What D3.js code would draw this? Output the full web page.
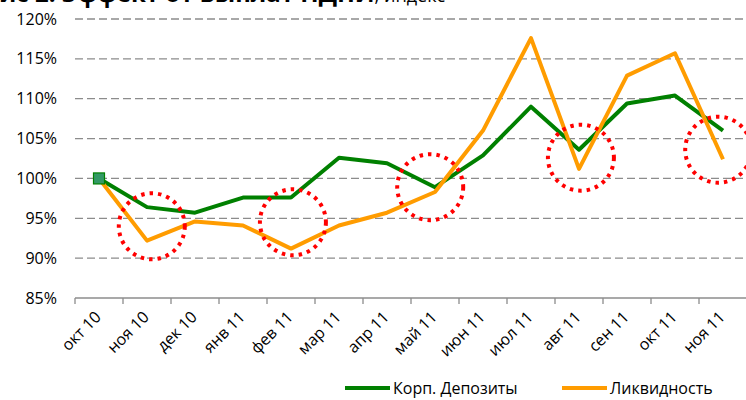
<!DOCTYPE html>
<html>
<head>
<meta charset="utf-8">
<script src="https://cdn.jsdelivr.net/npm/d3@7"></script>
<style>
  html, body { margin: 0; padding: 0; background: #fff; overflow: hidden; }
  svg { display: block; font-family: "Open Sans", "Noto Sans", sans-serif; }
</style>
</head>
<body>
<div id="chart"></div>
<script>
// category labels (months)
const months = ['окт 10', 'ноя 10', 'дек 10', 'янв 11', 'фев 11', 'мар 11', 'апр 11',
  'май 11', 'июн 11', 'июл 11', 'авг 11', 'сен 11', 'окт 11', 'ноя 11'];

// index values, % (окт 10 = 100)
const deposits = [100, 96.4, 95.7, 97.6, 97.6, 102.6, 101.9, 98.9, 102.9, 109.0, 103.6, 109.4, 110.4, 106.0];
const liquidity = [100, 92.2, 94.6, 94.1, 91.2, 94.1, 95.7, 98.3, 106.0, 117.6, 101.2, 112.9, 115.7, 102.4];

const yTicks = [85, 90, 95, 100, 105, 110, 115, 120];

// dotted red rings: month, small shift in steps, centre value
const rings = [
  { month: 'ноя 10', shift: 0.1, value: 94.0 },
  { month: 'фев 11', shift: 0.04, value: 94.5 },
  { month: 'май 11', shift: -0.1, value: 98.9 },
  { month: 'авг 11', shift: 0.04, value: 102.6 },
  { month: 'ноя 11', shift: -0.1, value: 103.6 }
];

const series = [
  { name: 'Корп. Депозиты', values: deposits, color: '#008000' },
  { name: 'Ликвидность', values: liquidity, color: '#ff9c00' }
];

const width = 746, height = 400;
const svg = d3.select('#chart').append('svg')
  .attr('width', width)
  .attr('height', height);

const x = d3.scaleBand().domain(months).range([75, 75 + 48 * months.length]);
const y = d3.scaleLinear().domain([85, 120]).range([298, 19]);
const cx = m => x(m) + x.bandwidth() / 2;

// title, mostly cut off by the top edge
const title = svg.append('text').attr('x', -16).attr('y', 2).attr('fill', '#000');
title.append('tspan').attr('font-weight', 'bold').attr('font-size', 24).text('Рис 2. Эффект от выплат НДПИ');
title.append('tspan').attr('font-size', 18).text(', индекс');

// grid lines
svg.append('g').selectAll('line')
  .data(yTicks.filter(d => d > 85))
  .join('line')
  .attr('x1', 75).attr('x2', width)
  .attr('y1', d => y(d)).attr('y2', d => y(d))
  .attr('stroke', '#8c8c8c')
  .attr('stroke-width', 1.3)
  .attr('stroke-dasharray', '8 4');

// y labels
svg.append('g').selectAll('text')
  .data(yTicks)
  .join('text')
  .attr('x', 57)
  .attr('y', d => y(d))
  .attr('dy', '0.35em')
  .attr('text-anchor', 'end')
  .attr('font-size', 16)
  .attr('fill', '#000')
  .text(d => d + '%');

// x axis line and ticks between categories
const xAxis = svg.append('g');
xAxis.append('line')
  .attr('x1', 75).attr('x2', width)
  .attr('y1', y(85)).attr('y2', y(85))
  .attr('stroke', '#8c8c8c').attr('stroke-width', 1.3);
xAxis.selectAll('line.tick')
  .data(months)
  .join('line')
  .attr('class', 'tick')
  .attr('x1', d => x(d)).attr('x2', d => x(d))
  .attr('y1', y(85)).attr('y2', y(85) + 6)
  .attr('stroke', '#8c8c8c').attr('stroke-width', 1.3);

xAxis.selectAll('text')
  .data(months)
  .join('text')
  .attr('transform', d => `translate(${cx(d) + 3},${y(85) + 20}) rotate(-45)`)
  .attr('text-anchor', 'end')
  .attr('font-size', 16)
  .attr('fill', '#000')
  .text(d => d);

// lines
const line = d3.line()
  .x((d, i) => cx(months[i]))
  .y(d => y(d));

svg.append('g').selectAll('path')
  .data(series)
  .join('path')
  .attr('d', d => line(d.values))
  .attr('fill', 'none')
  .attr('stroke', d => d.color)
  .attr('stroke-width', 4)
  .attr('stroke-linejoin', 'round');

// start marker
svg.append('rect')
  .attr('x', cx(months[0]) - 5.5)
  .attr('y', y(deposits[0]) - 5.5)
  .attr('width', 11).attr('height', 11)
  .attr('fill', '#339966')
  .attr('stroke', '#008000')
  .attr('stroke-width', 1.2);

// dotted rings
svg.append('g').selectAll('circle')
  .data(rings)
  .join('circle')
  .attr('cx', d => cx(d.month) + d.shift * x.step())
  .attr('cy', d => y(d.value))
  .attr('r', 33)
  .attr('fill', 'none')
  .attr('stroke', '#ff0000')
  .attr('stroke-width', 4)
  .attr('stroke-dasharray', '3.5 5');

// legend
const legend = svg.append('g').selectAll('g')
  .data(series)
  .join('g')
  .attr('transform', (d, i) => `translate(${[345, 562][i]},388)`);
legend.append('line')
  .attr('x1', 0).attr('x2', 45)
  .attr('stroke', d => d.color)
  .attr('stroke-width', 4);
legend.append('text')
  .attr('x', 48)
  .attr('dy', '0.35em')
  .attr('font-size', 16)
  .attr('fill', '#000')
  .text(d => d.name);

// footer line, only its tops show
svg.append('text')
  .attr('x', 105).attr('y', 415)
  .attr('font-size', 15)
  .attr('fill', '#000')
  .text('Источник: Банк России, расчеты (данные ЦБ РФ)');
</script>
</body>
</html>
